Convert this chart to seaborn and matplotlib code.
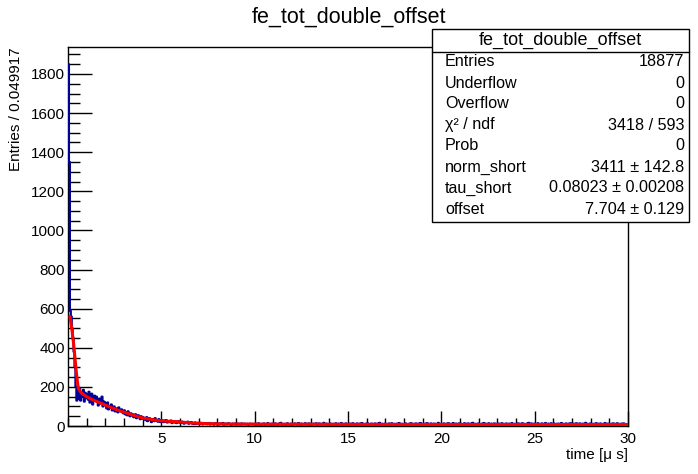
import numpy as np
import pandas as pd
import matplotlib
matplotlib.use("Agg")
import matplotlib.pyplot as plt
from matplotlib.ticker import MultipleLocator
from matplotlib.patches import Rectangle
from matplotlib.lines import Line2D
import seaborn as sns

# histogram: 601 bins from 0 to 30 us (width 0.049917)
n_bins = 601
t_min, t_max = 0.0, 30.0

counts_0_2 = [1850, 1350, 590, 560, 500, 450, 380, 300, 200, 130,
              180, 140, 195, 130, 160, 150, 185, 125, 170, 145,
              160, 135, 175, 120, 150, 165, 110, 140, 155, 130,
              150, 125, 105, 140, 130, 115, 150, 100, 125, 120]
counts_2_5 = [105, 90, 120, 85, 100, 95, 110, 80, 95, 100,
              75, 90, 85, 70, 95, 80, 75, 85, 70, 65,
              80, 60, 70, 55, 75, 60, 50, 65, 55, 60,
              45, 55, 60, 40, 50, 55, 45, 35, 50, 40,
              45, 35, 40, 30, 45, 25, 35, 40, 30, 20,
              35, 30, 25, 40, 28, 30, 22, 35, 25, 20]
counts_5_10 = [30, 25, 20, 28, 22, 30, 18, 25, 20, 22,
               28, 15, 20, 25, 18, 22, 15, 20, 25, 18,
               20, 15, 22, 18, 12, 20, 15, 18, 22, 12,
               15, 18, 20, 12, 15, 10, 18, 14, 12, 16,
               14, 10, 16, 12, 8, 15, 12, 10, 14, 9,
               12, 15, 8, 11, 13, 10, 7, 12, 14, 9,
               12, 10, 8, 13, 11, 9, 15, 7, 10, 12,
               8, 11, 14, 9, 10, 6, 12, 10, 8, 13,
               10, 8, 12, 9, 11, 7, 13, 10, 9, 12,
               8, 10, 11, 6, 9, 12, 10, 8, 11, 9]
counts_10_20 = [8, 12, 6, 9, 14, 7, 10, 5, 11, 9, 13, 6, 8, 10, 15, 7, 9, 11, 6, 12,
                9, 7, 13, 10, 6, 8, 12, 9, 16, 7, 10, 8, 11, 5, 9, 14, 8, 10, 7, 12,
                6, 10, 9, 13, 8, 11, 7, 15, 9, 6, 12, 8, 10, 9, 14, 7, 11, 8, 13, 6,
                11, 8, 7, 12, 10, 9, 14, 6, 8, 13, 9, 11, 7, 10, 16, 8, 9, 12, 6, 10,
                7, 13, 9, 5, 11, 10, 8, 14, 6, 9, 12, 7, 10, 15, 8, 6, 11, 9, 13, 7,
                10, 6, 12, 8, 9, 14, 7, 11, 5, 10, 13, 8, 9, 12, 6, 15, 8, 10, 7, 11,
                9, 14, 6, 10, 8, 12, 11, 7, 9, 13, 5, 10, 12, 8, 16, 7, 9, 11, 6, 10,
                12, 8, 10, 6, 13, 9, 7, 14, 10, 8, 11, 5, 9, 12, 7, 15, 10, 6, 11, 9,
                8, 11, 13, 7, 9, 6, 12, 10, 14, 8, 7, 11, 9, 13, 6, 10, 12, 8, 15, 7,
                10, 9, 6, 12, 8, 14, 11, 7, 10, 13, 9, 5, 12, 8, 11, 10, 7, 16, 9, 8]
counts_20_30 = [11, 7, 10, 13, 6, 9, 12, 8, 14, 10, 7, 11, 9, 15, 6, 8, 12, 10, 7, 13,
                9, 12, 6, 10, 8, 14, 7, 11, 9, 13, 10, 5, 12, 8, 16, 9, 7, 11, 10, 6,
                13, 8, 10, 7, 12, 9, 15, 6, 11, 8, 10, 14, 7, 9, 12, 6, 10, 13, 8, 11,
                7, 10, 12, 9, 6, 14, 8, 11, 10, 7, 13, 9, 5, 12, 10, 8, 15, 7, 9, 11,
                10, 6, 13, 8, 12, 9, 7, 14, 10, 11, 6, 9, 12, 8, 16, 7, 10, 13, 9, 8,
                12, 9, 7, 11, 14, 6, 10, 8, 13, 9, 11, 7, 15, 10, 6, 12, 8, 9, 14, 7,
                8, 13, 10, 6, 11, 9, 12, 7, 10, 15, 8, 11, 9, 6, 13, 10, 7, 12, 8, 14,
                10, 7, 12, 9, 8, 14, 6, 11, 10, 13, 7, 9, 12, 8, 10, 16, 6, 11, 9, 7,
                13, 8, 10, 11, 7, 9, 14, 6, 12, 10, 8, 13, 9, 7, 11, 10, 15, 8, 6, 12,
                9, 11, 7, 10, 13, 8, 12, 6, 9, 14, 10, 7, 11, 8, 12, 9, 13, 6, 10, 8, 5]

counts = counts_0_2 + counts_2_5 + counts_5_10 + counts_10_20 + counts_20_30

# fit curve
fit_t = [0.1, 0.2, 0.3, 0.375, 0.45, 0.55, 0.7, 1.0, 1.34, 1.8, 2.25, 2.7, 3.15,
         3.6, 4.02, 4.5, 4.94, 5.4, 5.83, 6.3, 6.7, 7.5, 8.5, 10, 15, 20, 25, 30]
fit_y = [560, 500, 420, 347, 270, 194, 170, 150, 133, 115, 97, 80, 66,
         52, 41, 33, 27, 24, 22, 18, 15, 12, 10, 9.5, 8.5, 8, 7.8, 7.7]

stat_names = ["Entries", "Underflow", "Overflow", "χ² / ndf", "Prob",
              "norm_short", "tau_short", "offset"]
stat_values = ["18877", "0", "0", "3418 / 593", "0",
               "3411 ± 142.8", "0.08023 ± 0.00208", "7.704 ± 0.129"]

bw = (t_max - t_min) / n_bins
centers = t_min + bw * (np.arange(n_bins) + 0.5)
df = pd.DataFrame({"t": centers, "n": counts})
fit_df = pd.DataFrame({"t": fit_t, "y": fit_y})

sns.set_style("ticks")
plt.rcParams["font.family"] = ["Liberation Sans", "DejaVu Sans"]
plt.rcParams["xtick.direction"] = "in"
plt.rcParams["ytick.direction"] = "in"
plt.rcParams["text.color"] = "black"
plt.rcParams["xtick.color"] = "black"
plt.rcParams["ytick.color"] = "black"
plt.rcParams["xtick.labelcolor"] = "black"
plt.rcParams["ytick.labelcolor"] = "black"
plt.rcParams["axes.labelcolor"] = "black"

fig = plt.figure(figsize=(6.98, 4.74), dpi=100)
ax = fig.add_axes([68 / 698, 48 / 474, 560 / 698, 379 / 474])

sns.histplot(data=df, x="t", weights="n", bins=n_bins, binrange=(t_min, t_max),
             element="step", fill=False, color="#000099", linewidth=1.6, ax=ax,
             zorder=3)
sns.lineplot(data=fit_df, x="t", y="y", color="#00cc00", linewidth=1, ax=ax, zorder=4)
sns.lineplot(data=fit_df, x="t", y="y", color="#ff0000", linewidth=2.2, ax=ax, zorder=5)

ax.set_xlim(0, 30)
ax.set_ylim(0, 1938)
ax.xaxis.set_major_locator(MultipleLocator(5))
ax.xaxis.set_minor_locator(MultipleLocator(1))
ax.yaxis.set_major_locator(MultipleLocator(200))
ax.yaxis.set_minor_locator(MultipleLocator(50))
ax.tick_params(axis="x", which="major", length=11, width=1, labelsize=11, pad=4)
ax.tick_params(axis="x", which="minor", length=5.5, width=1)
ax.tick_params(axis="y", which="major", length=17, width=1, labelsize=11, pad=2)
ax.tick_params(axis="y", which="minor", length=8.5, width=1)
ax.set_xticks([5, 10, 15, 20, 25, 30])
for s in ax.spines.values():
    s.set_linewidth(1)
    s.set_color("black")

ax.set_xlabel("time [μ s]", fontsize=11, loc="right", labelpad=2)
ax.set_ylabel("")
fig.text(16 / 698, 1 - 47 / 474, "Entries / 0.049917", rotation=90, ha="center",
         va="top", fontsize=11)

fig.text(0.5, 1 - 17 / 474, "fe_tot_double_offset", ha="center", va="center", fontsize=15.5)

# stat box
bx0, bx1, by0, by1 = 432, 689, 29, 222
fig.patches.append(Rectangle((bx0 / 698, 1 - by1 / 474), (bx1 - bx0) / 698, (by1 - by0) / 474,
                             transform=fig.transFigure, facecolor="white",
                             edgecolor="black", linewidth=1, zorder=5))
fig.lines.append(Line2D([bx0 / 698, bx1 / 698], [1 - 52 / 474, 1 - 52 / 474],
                        transform=fig.transFigure, color="black", linewidth=1, zorder=6))
fig.text((bx0 + bx1) / 2 / 698, 1 - 40 / 474, "fe_tot_double_offset", ha="center",
         va="center", fontsize=13, zorder=7)
for i, (name, val) in enumerate(zip(stat_names, stat_values)):
    yy = 1 - (62 + i * 21) / 474
    fig.text(445 / 698, yy, name, ha="left", va="center", fontsize=11.6, zorder=7)
    fig.text(684 / 698, yy, val, ha="right", va="center", fontsize=11.6, zorder=7)

fig.savefig("out.png", dpi=100)
